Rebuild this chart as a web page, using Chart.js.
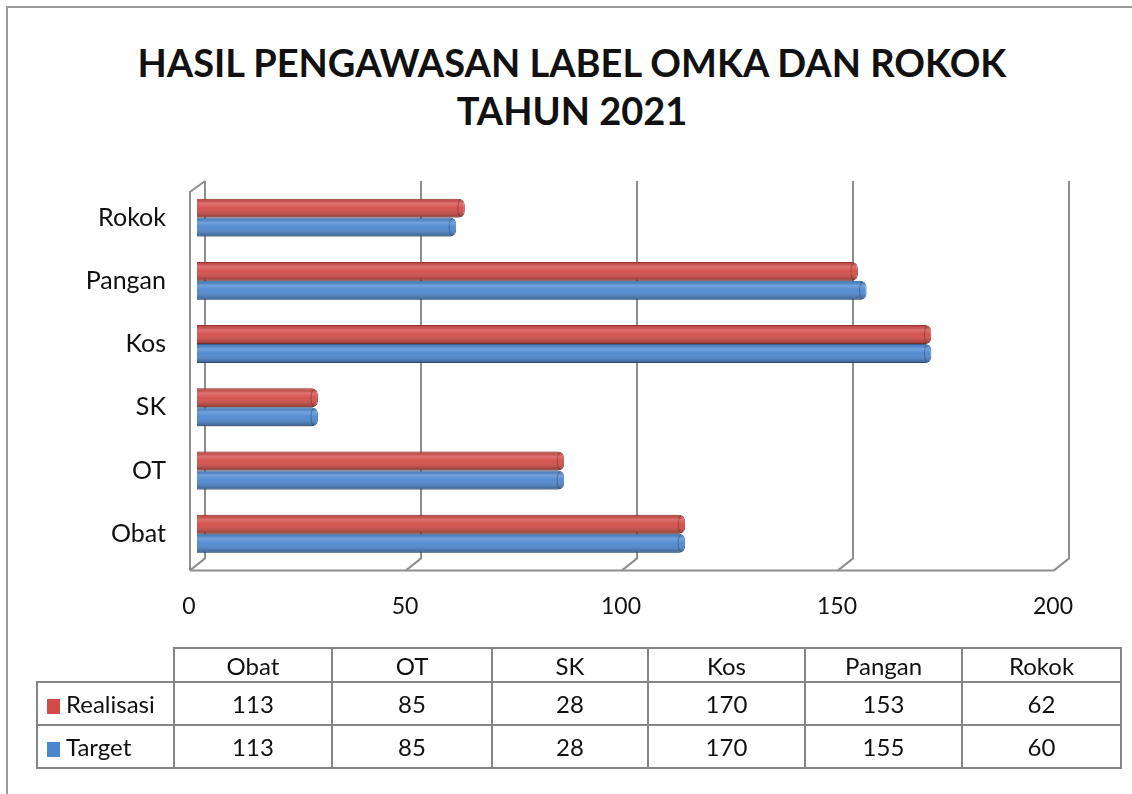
<!DOCTYPE html>
<html>
<head>
<meta charset="utf-8">
<script src="https://cdn.jsdelivr.net/npm/chart.js@4/dist/chart.umd.min.js"></script>
<style>
  html, body { margin: 0; padding: 0; background: #fff; }
  #wrap { position: relative; width: 1132px; height: 794px; overflow: hidden; }
  #frame { position: absolute; left: 6px; top: 6px; width: 1140px; height: 800px;
           border-left: 2px solid #9a9a9a; border-top: 2px solid #9a9a9a; }
  #chart-title { position: absolute; left: 0; top: 38px; width: 1144px; text-align: center;
                 font-family: Lato, "Open Sans", sans-serif; font-weight: bold; font-size: 38px;
                 line-height: 48px; color: #111; }
  #chart-box { position: absolute; left: 0; top: 0; width: 1132px; height: 794px; }
  #data-table { position: absolute; left: 36px; top: 647px; border-collapse: collapse;
                font-family: Lato, "Open Sans", sans-serif; font-size: 24px; color: #111; }
  #data-table td { border: 2px solid #858585; text-align: center; padding: 0; }
  #data-table td.blank { border: none; border-bottom: 2px solid #858585; border-right: 2px solid #858585; }
  #data-table tr.head td { height: 32px; }
  #data-table tr.row td { height: 41px; }
  #data-table td.key { text-align: left; padding-left: 9px; white-space: nowrap; }
  .swatch { display: inline-block; width: 13px; height: 15px; margin-right: 6px; vertical-align: -1px; }
</style>
</head>
<body>
<div id="wrap">
  <div id="frame"></div>
  <div id="chart-title"></div>
  <div id="chart-box"><canvas id="omka"></canvas></div>
  <table id="data-table"></table>
</div>
<script>
// --- data ---
const categories = ['Obat', 'OT', 'SK', 'Kos', 'Pangan', 'Rokok'];
const realisasi = [113, 85, 28, 170, 153, 62];
const target = [113, 85, 28, 170, 155, 60];
const xTicks = [0, 50, 100, 150, 200];
const seriesNames = ['Realisasi', 'Target'];
const titleLines = ['HASIL PENGAWASAN LABEL OMKA DAN ROKOK', 'TAHUN 2021'];

const RED = '#d24b46';
const BLUE = '#4b87cf';
const GRID = '#8e8e8e';

document.getElementById('chart-title').innerHTML = titleLines.join('<br>');

// --- 3d walls / grid drawn from the x scale ---
const wallPlugin = {
	id: 'wall',
	beforeDatasetsDraw(chart) {
		const ctx = chart.ctx;
		const xs = chart.scales.x;
		const area = chart.chartArea;
		const backTop = area.top - 5, backBot = area.bottom - 7, frontBot = area.bottom + 5;
		const back = 8, front = -7;
		ctx.save();
		ctx.strokeStyle = GRID;
		ctx.lineWidth = 2;
		xTicks.forEach(v => {
			const px = xs.getPixelForValue(v);
			ctx.beginPath();
			ctx.moveTo(px + back, backTop);
			ctx.lineTo(px + back, backBot);
			ctx.lineTo(px + front, frontBot);
			ctx.stroke();
		});
		// floor front edge
		const x0 = xs.getPixelForValue(xTicks[0]);
		const xN = xs.getPixelForValue(xTicks[xTicks.length - 1]);
		ctx.beginPath();
		ctx.moveTo(x0 + front, frontBot);
		ctx.lineTo(xN + front, frontBot);
		ctx.stroke();
		// left wall front edge
		ctx.beginPath();
		ctx.moveTo(x0 + back, backTop);
		ctx.lineTo(x0 + front, backTop + 11);
		ctx.lineTo(x0 + front, frontBot);
		ctx.stroke();
		ctx.restore();
	}
};

// --- cylinder shading on top of each bar ---
const shadePlugin = {
	id: 'shade',
	afterDatasetsDraw(chart) {
		const ctx = chart.ctx;
		ctx.save();
		chart.data.datasets.forEach((ds, i) => {
			chart.getDatasetMeta(i).data.forEach(bar => {
				const p = bar.getProps(['x', 'y', 'base', 'height'], true);
				const top = p.y - p.height / 2;
				const r = Math.min(6, p.height / 2);
				const g = ctx.createLinearGradient(0, top, 0, top + p.height);
				g.addColorStop(0, 'rgba(0,0,0,0.10)');
				g.addColorStop(0.25, 'rgba(255,255,255,0.22)');
				g.addColorStop(0.5, 'rgba(255,255,255,0.05)');
				g.addColorStop(1, 'rgba(0,0,0,0.35)');
				ctx.fillStyle = g;
				ctx.beginPath();
				ctx.roundRect(p.base, top, p.x - p.base, p.height, [0, r, r, 0]);
				ctx.fill();
				// end cap rim
				ctx.strokeStyle = 'rgba(0,0,0,0.25)';
				ctx.lineWidth = 1;
				ctx.beginPath();
				ctx.ellipse(p.x - 4, p.y, 3, p.height / 2 - 1, 0, -Math.PI / 2, Math.PI / 2, true);
				ctx.stroke();
			});
		});
		ctx.restore();
	}
};

var ctx = document.getElementById('omka').getContext('2d');

var omkaChart = new Chart(ctx, {
	type: 'bar',
	data: {
		labels: categories,
		datasets: [{
			label: seriesNames[0],
			data: realisasi,
			backgroundColor: RED,
			borderColor: '#a93a36',
			borderWidth: 1,
			borderSkipped: 'start',
			borderRadius: 6
		}, {
			label: seriesNames[1],
			data: target,
			backgroundColor: BLUE,
			borderColor: '#3a6ca8',
			borderWidth: 1,
			borderSkipped: 'start',
			borderRadius: 6
		}]
	},
	options: {
		indexAxis: 'y',
		responsive: true,
		maintainAspectRatio: false,
		animation: false,
		layout: { padding: { left: 0, right: 71, top: 186, bottom: 147 } },
		datasets: { bar: { categoryPercentage: 0.6, barPercentage: 1 } },
		plugins: {
			legend: { display: false },
			tooltip: { enabled: false },
			title: { display: false }
		},
		scales: {
			x: {
				min: 0,
				max: 200,
				afterBuildTicks(scale) { scale.ticks = xTicks.map(v => ({ value: v })); },
				grid: { display: false, drawTicks: false },
				border: { display: false },
				ticks: { color: '#111', font: { family: 'Lato', size: 23 }, padding: 27, labelOffset: -8 }
			},
			y: {
				reverse: true,
				afterFit(scale) { scale.width = 197; },
				grid: { display: false, drawTicks: false },
				border: { display: false },
				ticks: { color: '#111', font: { family: 'Lato', size: 25 }, padding: 31 }
			}
		}
	},
	plugins: [wallPlugin, shadePlugin]
});

// --- data table under the chart ---
var $table = document.getElementById('data-table');
var colWidths = [136, 156, 158, 154, 155, 155, 157];
var html = '<tr class="head"><td class="blank" style="width:' + colWidths[0] + 'px"></td>';
categories.forEach((c, i) => {
	html += '<td style="width:' + colWidths[i + 1] + 'px">' + c + '</td>';
});
html += '</tr>';
[[seriesNames[0], realisasi, RED], [seriesNames[1], target, BLUE]].forEach(row => {
	html += '<tr class="row"><td class="key"><span class="swatch" style="background:' + row[2] + '"></span>' + row[0] + '</td>';
	row[1].forEach(v => { html += '<td>' + v + '</td>'; });
	html += '</tr>';
});
$table.innerHTML = html;
</script>
</body>
</html>
